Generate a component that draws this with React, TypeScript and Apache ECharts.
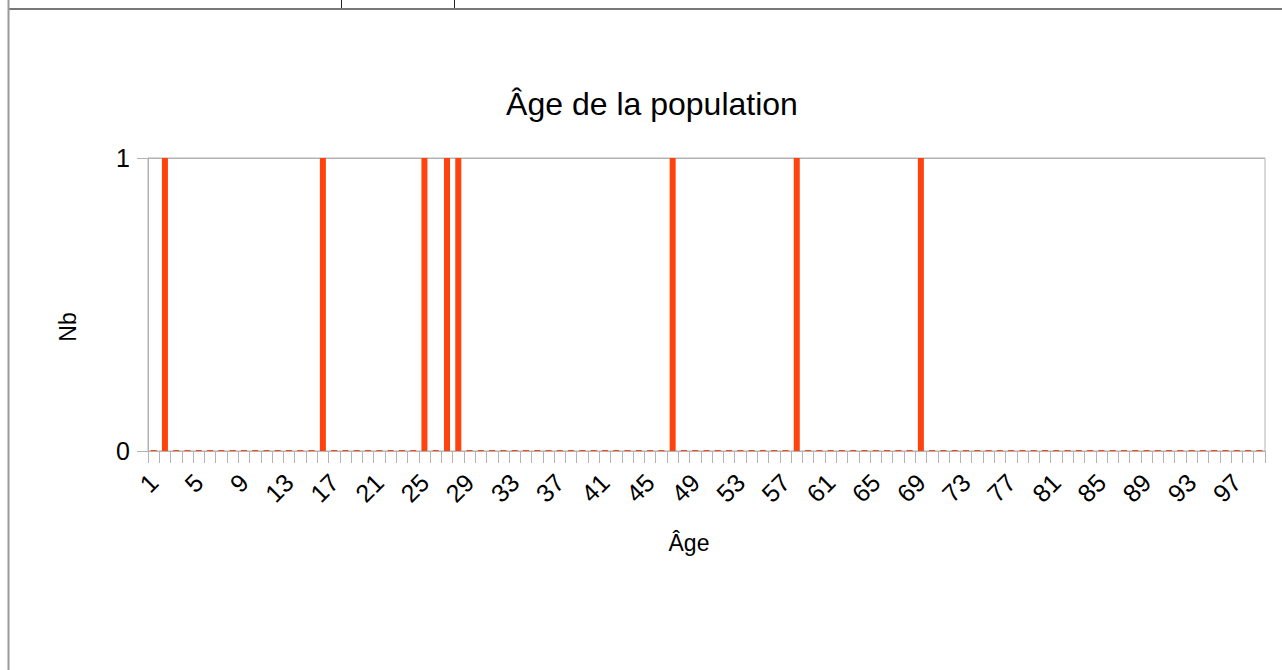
import React, { useEffect, useRef } from "react";
import * as echarts from "echarts";

const ages: string[] = Array.from({ length: 99 }, (_, i) => String(i + 1));
const presentAges: number[] = [2, 16, 25, 27, 28, 47, 58, 69];
const counts: number[] = ages.map((a) => (presentAges.includes(Number(a)) ? 1 : 0));

const titleText = "Âge de la population";
const xName = "Âge";
const yName = "Nb";

export default function App() {
  const ref = useRef<HTMLDivElement>(null);
  useEffect(() => {
    if (!ref.current) return;
    const chart = echarts.init(ref.current, undefined, { renderer: "svg" });
    const font = "'Liberation Sans', Arial, sans-serif";
    chart.setOption({
      animation: false,
      backgroundColor: "#ffffff",
      textStyle: { fontFamily: font },
      grid: {
        left: 148,
        right: 17,
        top: 158,
        bottom: 219,
        show: true,
        borderColor: "#b3b3b3",
        borderWidth: 1,
        backgroundColor: "transparent",
      },
      xAxis: {
        type: "category",
        data: ages,
        axisLine: { lineStyle: { color: "#b3b3b3", width: 1 } },
        axisTick: { show: true, interval: 0, length: 12, lineStyle: { color: "#b3b3b3" } },
        axisLabel: {
          interval: 3,
          rotate: 45,
          fontSize: 25,
          color: "#000",
          fontFamily: font,
          margin: 27,
        },
        splitLine: { show: false },
      },
      yAxis: {
        type: "value",
        min: 0,
        max: 1,
        interval: 1,
        axisLine: { show: true, lineStyle: { color: "#b3b3b3", width: 1 } },
        axisTick: { show: true, length: 11, lineStyle: { color: "#b3b3b3" } },
        axisLabel: { fontSize: 25, color: "#000", fontFamily: font, margin: 18 },
        splitLine: { show: true, lineStyle: { color: "#b3b3b3", width: 1 } },
      },
      graphic: [
        { type: "line", shape: { x1: 8, y1: 9, x2: 1282, y2: 9 }, style: { stroke: "#777", lineWidth: 2 }, silent: true },
        { type: "line", shape: { x1: 8.5, y1: 0, x2: 8.5, y2: 670 }, style: { stroke: "#999", lineWidth: 2 }, silent: true },
        { type: "line", shape: { x1: 341.5, y1: 0, x2: 341.5, y2: 8 }, style: { stroke: "#222", lineWidth: 1 }, silent: true },
        { type: "line", shape: { x1: 454.5, y1: 0, x2: 454.5, y2: 8 }, style: { stroke: "#222", lineWidth: 1 }, silent: true },
        {
          type: "text",
          x: 652,
          y: 104,
          style: { text: titleText, fontSize: 32, fill: "#000", fontFamily: font, align: "center", verticalAlign: "middle" },
          silent: true,
        },
        {
          type: "text",
          x: 689,
          y: 543,
          style: { text: xName, fontSize: 23, fill: "#000", fontFamily: font, align: "center", verticalAlign: "middle" },
          silent: true,
        },
        {
          type: "text",
          x: 68,
          y: 327,
          rotation: Math.PI / 2,
          style: { text: yName, fontSize: 23, fill: "#000", fontFamily: font, align: "center", verticalAlign: "middle" },
          silent: true,
        },
      ],
      series: [
        {
          type: "bar",
          data: counts,
          barWidth: 6,
          barMinHeight: 1,
          itemStyle: { color: "#ff420e" },
        },
      ],
    });
    return () => chart.dispose();
  }, []);
  return (
    <div
      ref={ref}
      style={{ position: "absolute", left: 0, top: 0, width: 1282, height: 670 }}
    />
  );
}
